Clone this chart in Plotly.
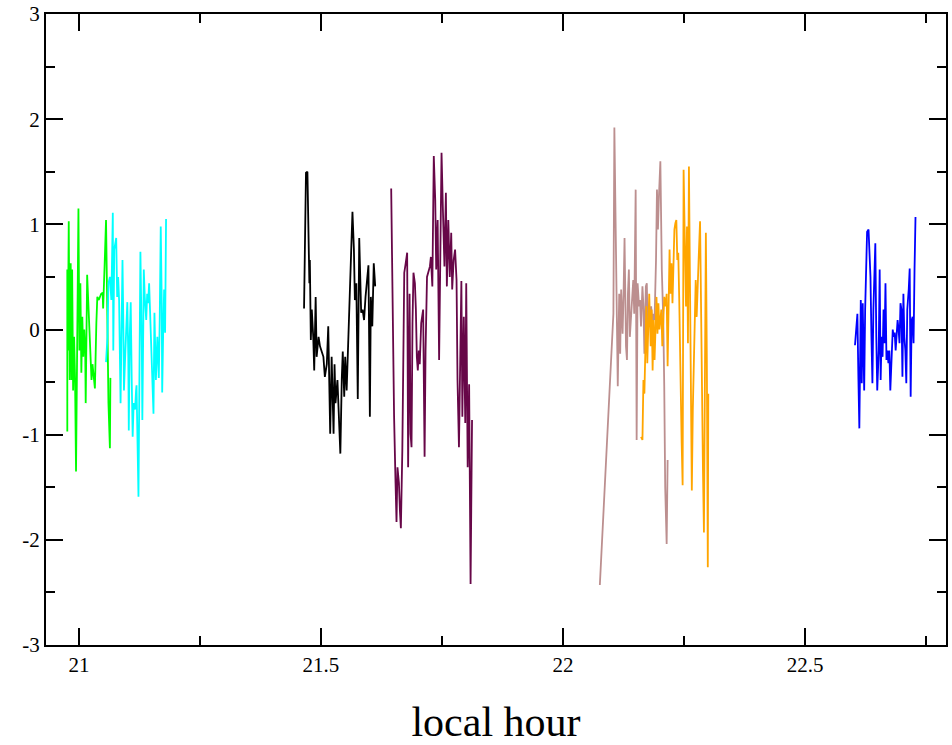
import plotly.graph_objects as go

# ---- data (local hour, value) ----
green_x = [20.976, 20.976, 20.977, 20.979, 20.981, 20.983, 20.985, 20.986, 20.988, 20.990, 20.992, 20.994,
           20.997, 20.999, 21.001, 21.003, 21.005, 21.007, 21.009, 21.011, 21.013, 21.014, 21.017, 21.020,
           21.023, 21.026, 21.028, 21.031, 21.033, 21.036, 21.038, 21.041, 21.043, 21.046, 21.049, 21.050,
           21.053, 21.056, 21.058, 21.059, 21.061, 21.064, 21.065]
green_y = [-0.97, 0.57, -0.20, 1.03, -0.48, 0.63, -0.48, 0.57, -0.58, -0.07, -0.46, -1.35,
           0.76, 1.15, -0.20, 0.44, -0.41, 0.12, -0.26, 0.00, -0.20, -0.70, 0.52, 0.19,
           -0.20, -0.48, -0.33, -0.45, -0.56, 0.06, 0.31, 0.28, 0.31, 0.34, 0.35, 0.20,
           0.60, 1.04, 0.38, -0.32, -0.70, -1.13, -0.46]

cyan_x = [21.056, 21.059, 21.061, 21.064, 21.067, 21.070, 21.071, 21.073, 21.077, 21.079, 21.081, 21.083,
          21.086, 21.088, 21.090, 21.092, 21.093, 21.096, 21.098, 21.100, 21.102, 21.103, 21.105, 21.107,
          21.109, 21.111, 21.113, 21.116, 21.118, 21.119, 21.123, 21.125, 21.127, 21.130, 21.131, 21.133,
          21.134, 21.136, 21.139, 21.141, 21.143, 21.145, 21.149, 21.152, 21.154, 21.156, 21.158, 21.159,
          21.162, 21.164, 21.165, 21.167, 21.169, 21.171, 21.172, 21.174, 21.176, 21.178, 21.180]
cyan_y = [-0.31, -0.07, 0.44, 0.50, 0.28, 1.11, -0.20, 0.76, 0.87, 0.31, 0.50, 0.28,
          -0.70, 0.12, 0.66, -0.03, -0.58, -0.20, 0.06, 0.26, -0.26, -0.96, -0.07, 0.26,
          -0.46, -1.02, -0.70, -0.76, -0.58, -0.53, -1.59, -0.46, 0.74, -0.20, -0.86, 0.06,
          0.57, 0.31, 0.09, 0.34, 0.25, 0.44, -0.20, -0.48, -0.80, 0.16, -0.20, -0.48,
          -0.07, -0.36, -0.46, 0.12, 0.98, 0.28, -0.60, -0.03, 0.38, -0.03, 1.05]

black_x = [21.465, 21.467, 21.469, 21.472, 21.474, 21.476, 21.477, 21.479, 21.481, 21.484, 21.486, 21.489,
           21.491, 21.495, 21.498, 21.501, 21.505, 21.508, 21.512, 21.515, 21.519, 21.522, 21.526, 21.528,
           21.530, 21.534, 21.537, 21.540, 21.543, 21.545, 21.548, 21.550, 21.553, 21.557, 21.560, 21.565,
           21.568, 21.570, 21.573, 21.576, 21.579, 21.581, 21.583, 21.586, 21.589, 21.592, 21.595, 21.598,
           21.601, 21.603, 21.606, 21.609, 21.612]
black_y = [0.20, 0.76, 1.49, 1.50, 0.69, 0.44, 0.66, -0.10, 0.19, -0.07, -0.39, 0.31,
           -0.26, -0.07, -0.16, -0.20, -0.26, -0.45, -0.33, 0.03, -0.99, -0.26, -0.99, -0.33,
           -0.70, -0.48, -0.83, -1.18, -0.46, -0.21, -0.64, -0.26, -0.58, 0.00, 0.50, 1.12,
           0.76, 0.28, 0.44, -0.66, 0.87, 0.38, 0.16, 0.19, 0.09, 0.31, 0.44, 0.61,
           -0.83, 0.31, 0.03, 0.63, 0.41]

maroon_x = [21.645, 21.646, 21.647, 21.649, 21.651, 21.654, 21.656, 21.658, 21.661, 21.663, 21.665, 21.668,
            21.670, 21.672, 21.675, 21.678, 21.680, 21.683, 21.685, 21.687, 21.689, 21.691, 21.694, 21.696,
            21.698, 21.700, 21.702, 21.704, 21.707, 21.709, 21.711, 21.714, 21.716, 21.719, 21.722, 21.725,
            21.727, 21.730, 21.733, 21.736, 21.738, 21.741, 21.744, 21.747, 21.749, 21.752, 21.755, 21.758,
            21.760, 21.763, 21.766, 21.769, 21.771, 21.774, 21.777, 21.780, 21.782, 21.785, 21.788, 21.790,
            21.792, 21.795, 21.798, 21.800, 21.803, 21.806, 21.809, 21.811, 21.812]
maroon_y = [1.34, 0.92, 0.44, -0.20, -0.83, -1.46, -1.83, -1.31, -1.46, -1.72, -1.89, -1.15,
            0.22, 0.54, 0.63, 0.73, -1.31, 0.34, -0.99, -1.12, 0.06, 0.54, 0.44, 0.19,
            -0.26, -0.39, -0.20, -0.33, 0.06, 0.16, 0.19, -1.21, -0.20, 0.50, 0.54, 0.60,
            0.69, 0.41, 1.65, 1.23, 0.57, 1.04, -0.29, 0.79, 1.68, 1.11, 0.60, 1.30,
            0.41, 1.04, 0.50, 0.92, 0.38, 0.66, 0.76, 0.47, -0.48, -1.12, -0.20, 0.46,
            -0.83, 0.12, -0.89, 0.44, -1.31, -0.52, -2.42, -1.46, -0.86]

brown_x = [22.076, 22.104, 22.106, 22.109, 22.111, 22.113, 22.116, 22.118, 22.120, 22.123, 22.125, 22.127,
           22.130, 22.132, 22.134, 22.136, 22.138, 22.141, 22.143, 22.145, 22.147, 22.150, 22.152, 22.154,
           22.157, 22.159, 22.161, 22.164, 22.166, 22.168, 22.171, 22.173, 22.175, 22.178, 22.180, 22.182,
           22.185, 22.187, 22.189, 22.192, 22.194, 22.196, 22.198, 22.201, 22.204, 22.207, 22.209, 22.211,
           22.214, 22.216]
brown_y = [-2.43, 0.15, 1.92, 0.73, -0.04, -0.54, 0.34, -0.23, 0.38, -0.04, 0.34, 0.87,
           -0.16, -0.29, 0.34, 0.57, -0.07, 0.22, 0.34, 0.47, 0.15, 1.33, -1.05, 0.44,
           0.22, 0.28, 0.03, 0.41, 0.22, -0.23, 0.41, 0.44, -0.04, 0.22, 0.09, 0.22,
           0.03, 0.15, 0.09, 0.66, 1.33, 0.95, 1.26, 1.60, 0.57, 0.09, -0.54, -1.50,
           -2.04, -1.24]

orange_x = [22.161, 22.164, 22.166, 22.168, 22.170, 22.172, 22.174, 22.176, 22.178, 22.181, 22.183, 22.185,
            22.187, 22.189, 22.191, 22.193, 22.195, 22.197, 22.199, 22.201, 22.203, 22.205, 22.207, 22.209,
            22.212, 22.214, 22.216, 22.218, 22.220, 22.222, 22.224, 22.226, 22.228, 22.230, 22.232, 22.234,
            22.236, 22.238, 22.240, 22.242, 22.245, 22.247, 22.249, 22.251, 22.254, 22.256, 22.258, 22.260,
            22.262, 22.264, 22.266, 22.268, 22.270, 22.272, 22.274, 22.276, 22.278, 22.280, 22.283, 22.285,
            22.287, 22.289, 22.291, 22.293, 22.295, 22.297, 22.299, 22.300]
orange_y = [-1.02, -1.05, -0.48, -0.61, -0.20, 0.22, -0.32, 0.15, 0.34, -0.16, 0.19, -0.39,
            0.09, -0.29, 0.12, 0.31, -0.04, 0.25, 0.00, 0.09, 0.19, -0.16, 0.19, 0.31,
            0.22, 0.34, -0.35, 0.31, 0.76, 0.34, 0.63, 0.25, 0.69, 0.95, 1.01, 1.04,
            0.66, 0.73, 0.28, -0.42, -1.08, -1.48, 1.52, 0.98, 0.22, 0.98, -0.13, 1.55,
            0.66, -0.61, -1.53, -0.77, -0.29, 0.03, 0.47, 0.12, 0.47, 0.66, 1.03, 0.03,
            -0.86, -1.34, -1.93, 0.03, 0.92, -0.29, -2.26, -0.61]

blue_x = [22.603, 22.605, 22.608, 22.610, 22.612, 22.615, 22.617, 22.619, 22.622, 22.624, 22.626, 22.628,
          22.631, 22.633, 22.635, 22.637, 22.639, 22.641, 22.643, 22.645, 22.647, 22.649, 22.652, 22.654,
          22.656, 22.658, 22.660, 22.662, 22.664, 22.666, 22.668, 22.670, 22.672, 22.674, 22.676, 22.678,
          22.681, 22.683, 22.685, 22.687, 22.689, 22.691, 22.693, 22.695, 22.697, 22.699, 22.701, 22.703,
          22.705, 22.707, 22.709, 22.711, 22.714, 22.716, 22.718, 22.720, 22.722, 22.724, 22.726, 22.728]
blue_y = [-0.15, 0.00, 0.15, -0.45, -0.94, 0.28, -0.51, 0.25, -0.58, 0.19, 0.76, 0.93,
          0.95, 0.69, 0.50, -0.07, -0.51, 0.19, 0.57, 0.82, -0.07, -0.58, -0.20, 0.57,
          -0.48, -0.07, -0.26, 0.19, -0.13, 0.44, -0.29, -0.20, -0.32, -0.20, -0.58, -0.32,
          0.00, -0.07, -0.03, -0.20, -0.07, 0.09, 0.00, -0.13, 0.25, 0.19, -0.45, 0.34,
          -0.07, -0.20, -0.51, 0.19, 0.38, 0.58, -0.64, 0.09, 0.12, -0.13, 0.57, 1.07]

x_ticks = [21, 21.5, 22, 22.5]
x_tick_labels = ["21", "21.5", "22", "22.5"]
y_ticks = [-3, -2, -1, 0, 1, 2, 3]
y_tick_labels = ["-3", "-2", "-1", "0", "1", "2", "3"]

series = [
    (green_x, green_y, "#00ff00"),
    (cyan_x, cyan_y, "#00ffff"),
    (black_x, black_y, "#000000"),
    (maroon_x, maroon_y, "#670748"),
    (brown_x, brown_y, "#bc8f8f"),
    (orange_x, orange_y, "#ffa500"),
    (blue_x, blue_y, "#0000ff"),
]

fig = go.Figure()
for xs, ys, col in series:
    fig.add_trace(go.Scatter(x=xs, y=ys, mode="lines",
                             line=dict(color=col, width=1.8),
                             showlegend=False, hoverinfo="skip"))

font_fam = "Liberation Serif, Times New Roman, serif"
axis_common = dict(
    showline=True, linecolor="black", linewidth=2, mirror="allticks",
    ticks="inside", ticklen=17, tickwidth=1.5, tickcolor="black",
    showgrid=False, zeroline=False, automargin=False,
    tickfont=dict(family=font_fam, size=21, color="black"),
)

fig.update_xaxes(range=[20.932, 22.791], tickmode="array", tickvals=x_ticks,
                 ticktext=x_tick_labels,
                 minor=dict(dtick=0.25, tick0=21, ticks="inside", ticklen=9,
                            tickwidth=1.5, tickcolor="black"),
                 title=dict(text="local hour", font=dict(family=font_fam, size=42, color="black"),
                            standoff=30),
                 **axis_common)
fig.update_yaxes(range=[-3, 3], tickmode="array", tickvals=y_ticks,
                 ticktext=y_tick_labels,
                 minor=dict(dtick=0.5, tick0=0, ticks="inside", ticklen=9,
                            tickwidth=1.5, tickcolor="black"),
                 **axis_common)

fig.update_layout(
    width=952, height=745,
    margin=dict(l=46, r=6, t=14, b=100),
    paper_bgcolor="white", plot_bgcolor="white",
)

fig.write_html("out.html")
